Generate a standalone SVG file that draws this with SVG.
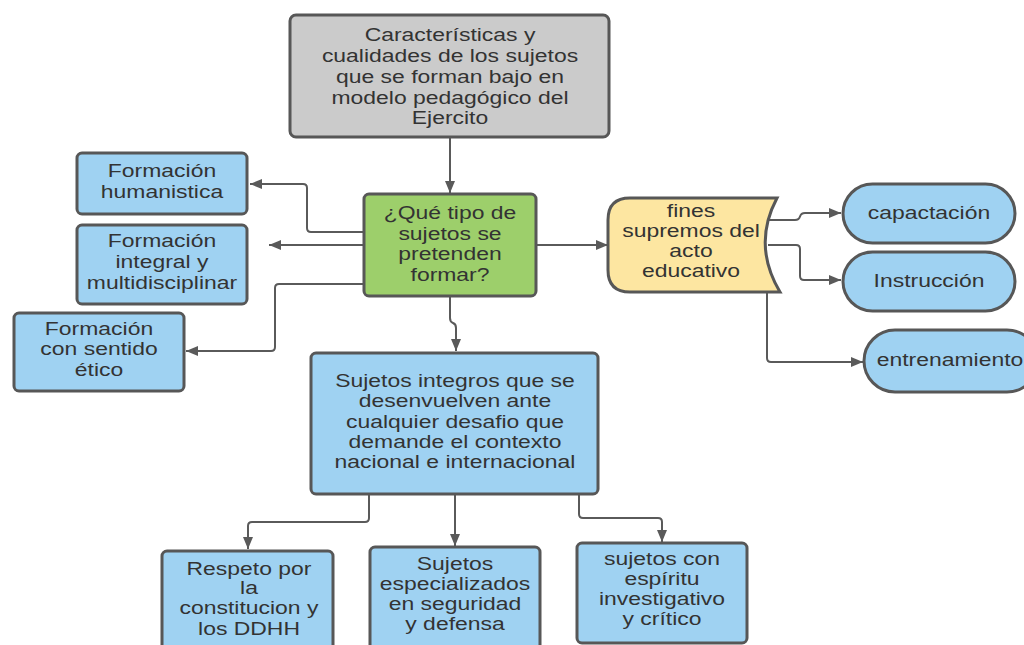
<svg xmlns="http://www.w3.org/2000/svg" width="1024" height="645" viewBox="0 0 1024 645">
<defs>
<marker id="arr" markerUnits="userSpaceOnUse" markerWidth="13" markerHeight="11" refX="12" refY="5" orient="auto">
<path d="M0,0 L12,5 L0,10 Z" fill="#5a5a5a"/>
</marker>
<style>
.box{stroke:#575757;stroke-width:3}
.blue{fill:#9fd2f2}
.gray{fill:#cbcbcb}
.green{fill:#9dcf6b}
.yellow{fill:#fde6a1}
.t{font-family:"Liberation Sans",Arial,sans-serif;font-size:18.5px;fill:#333333;text-anchor:middle}
.c{fill:none;stroke:#5a5a5a;stroke-width:2;marker-end:url(#arr)}
</style>
</defs>
<rect width="1024" height="645" fill="#ffffff"/>
<g id="connectors">
<path class="c" d="M450,137 V193"/>
<path class="c" d="M364,232 H311 Q307,232 307,228 V188 Q307,184 303,184 H250"/>
<path class="c" d="M364,245 H269"/>
<path class="c" d="M364,284 H279 Q275,284 275,288 V347 Q275,351 271,351 H186"/>
<path class="c" d="M536,245 H608"/>
<path class="c" d="M450,296 V318 Q450,322 453,323 Q456,324 456,328 V351"/>
<path class="c" d="M768,220 H795 Q799,220 800,216.5 Q801,213 805,213 H841"/>
<path class="c" d="M768,245 H796 Q800,245 800,249 V276 Q800,280 804,280 H841"/>
<path class="c" d="M767,292 V358 Q767,362 771,362 H863"/>
<path class="c" d="M369,494 V518 Q369,522 365,522 H252 Q248,522 248,526 V549"/>
<path class="c" d="M455,494 V546"/>
<path class="c" d="M579,494 V514 Q579,518 583,518 H658 Q662,518 662,522 V542"/>
</g>
<g id="n-top">
<rect class="box gray" x="290" y="15" width="319" height="122" rx="6"/>
<text class="t" transform="translate(450 0) scale(1.24 1)"><tspan x="0" y="41">Características y</tspan><tspan x="0" y="62">cualidades de los sujetos</tspan><tspan x="0" y="83">que se forman bajo en</tspan><tspan x="0" y="104">modelo pedagógico del</tspan><tspan x="0" y="124">Ejercito</tspan></text>
</g>
<g id="n-green">
<rect class="box green" x="364" y="194" width="172" height="102" rx="5"/>
<text class="t" transform="translate(450 0) scale(1.24 1)"><tspan x="0" y="219">¿Qué tipo de</tspan><tspan x="0" y="240">sujetos se</tspan><tspan x="0" y="260.5">pretenden</tspan><tspan x="0" y="281">formar?</tspan></text>
</g>
<g id="n-humanistica">
<rect class="box blue" x="77" y="153" width="170" height="61" rx="5"/>
<text class="t" transform="translate(162 0) scale(1.24 1)"><tspan x="0" y="177">Formación</tspan><tspan x="0" y="198">humanistica</tspan></text>
</g>
<g id="n-integral">
<rect class="box blue" x="77" y="225" width="170" height="79" rx="5"/>
<text class="t" transform="translate(162 0) scale(1.24 1)"><tspan x="0" y="247">Formación</tspan><tspan x="0" y="268">integral y</tspan><tspan x="0" y="289">multidisciplinar</tspan></text>
</g>
<g id="n-etico">
<rect class="box blue" x="14" y="313" width="170" height="78" rx="5"/>
<text class="t" transform="translate(99 0) scale(1.24 1)"><tspan x="0" y="335">Formación</tspan><tspan x="0" y="355.5">con sentido</tspan><tspan x="0" y="376">ético</tspan></text>
</g>
<g id="n-fines">
<path class="box yellow" d="M630,198 L777,198 Q752,245 780,292 L630,292 Q608,292 608,270 L608,220 Q608,198 630,198 Z"/>
<text class="t" transform="translate(691 0) scale(1.24 1)"><tspan x="0" y="217">fines</tspan><tspan x="0" y="237">supremos del</tspan><tspan x="0" y="257">acto</tspan><tspan x="0" y="277">educativo</tspan></text>
</g>
<g id="n-capactacion">
<rect class="box blue" x="843" y="184" width="172" height="59" rx="29.5"/>
<text class="t" transform="translate(929 0) scale(1.24 1)" x="0" y="219">capactación</text>
</g>
<g id="n-instruccion">
<rect class="box blue" x="843" y="252" width="172" height="59" rx="29.5"/>
<text class="t" transform="translate(929 0) scale(1.24 1)" x="0" y="287">Instrucción</text>
</g>
<g id="n-entrenamiento">
<rect class="box blue" x="864" y="330" width="174" height="62" rx="31"/>
<text class="t" transform="translate(950 0) scale(1.24 1)" x="0" y="366">entrenamiento</text>
</g>
<g id="n-sujetos">
<rect class="box blue" x="311" y="353" width="287" height="141" rx="5"/>
<text class="t" transform="translate(455 0) scale(1.24 1)"><tspan x="0" y="387">Sujetos integros que se</tspan><tspan x="0" y="407.5">desenvuelven ante</tspan><tspan x="0" y="428">cualquier desafio que</tspan><tspan x="0" y="448">demande el contexto</tspan><tspan x="0" y="468.5">nacional e internacional</tspan></text>
</g>
<g id="n-respeto">
<rect class="box blue" x="162" y="551" width="171" height="104" rx="5"/>
<text class="t" transform="translate(249 0) scale(1.24 1)"><tspan x="0" y="575">Respeto por</tspan><tspan x="0" y="594.5">la</tspan><tspan x="0" y="614">constitucion y</tspan><tspan x="0" y="635">los DDHH</tspan></text>
</g>
<g id="n-especializados">
<rect class="box blue" x="370" y="547" width="170" height="104" rx="5"/>
<text class="t" transform="translate(455 0) scale(1.24 1)"><tspan x="0" y="570">Sujetos</tspan><tspan x="0" y="590">especializados</tspan><tspan x="0" y="610">en seguridad</tspan><tspan x="0" y="630">y defensa</tspan></text>
</g>
<g id="n-espiritu">
<rect class="box blue" x="577" y="543" width="170" height="100" rx="5"/>
<text class="t" transform="translate(662 0) scale(1.24 1)"><tspan x="0" y="565">sujetos con</tspan><tspan x="0" y="585">espíritu</tspan><tspan x="0" y="605">investigativo</tspan><tspan x="0" y="625">y crítico</tspan></text>
</g>
</svg>
